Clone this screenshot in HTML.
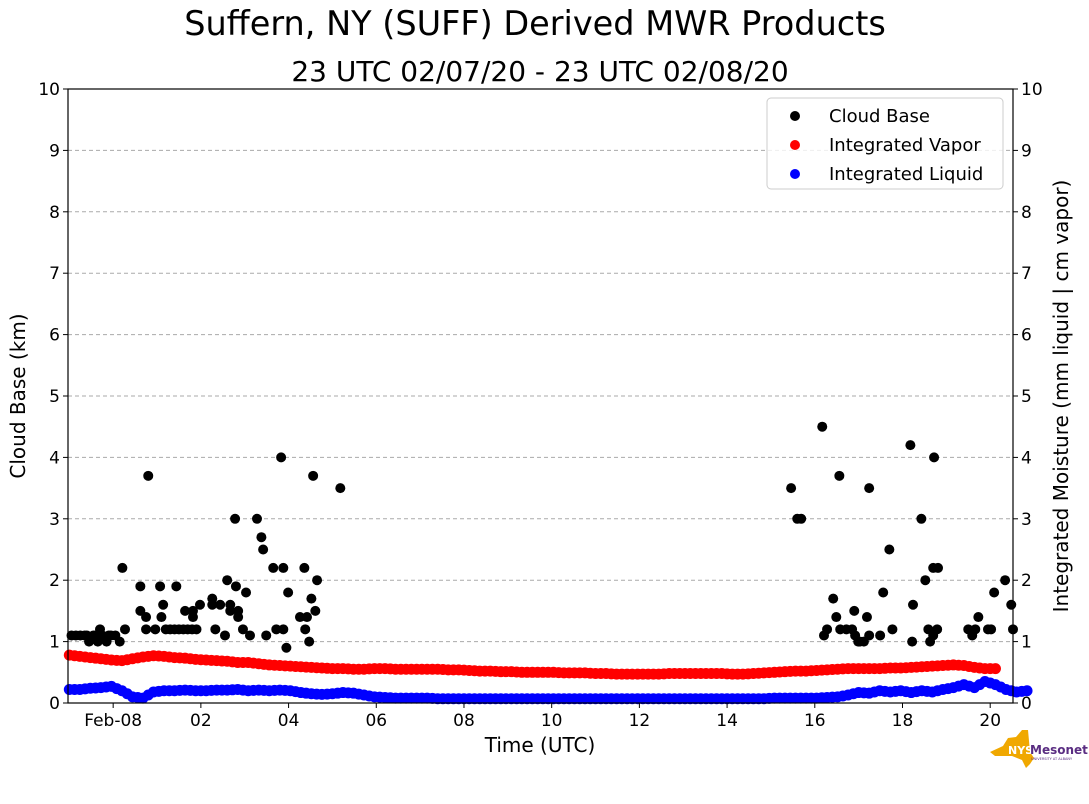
<!DOCTYPE html>
<html><head><meta charset="utf-8"><style>
body{margin:0;background:#fff;}
svg{display:block;font-family:"DejaVu Sans","Liberation Sans",sans-serif;}
</style></head><body>
<svg id="c" width="1089" height="804">
<text x="535" y="35" text-anchor="middle" font-size="33.5">Suffern, NY (SUFF) Derived MWR Products</text>
<text x="540" y="81" text-anchor="middle" font-size="28">23 UTC 02/07/20 - 23 UTC 02/08/20</text>
<g id="grid"></g>
<g id="marks"></g>
<rect x="68" y="89" width="945" height="614" fill="none" stroke="#000" stroke-width="1.2"/>
<g id="axes"></g>
<text x="540" y="752" text-anchor="middle" font-size="20">Time (UTC)</text>
<text transform="translate(25,396) rotate(-90)" text-anchor="middle" font-size="20">Cloud Base (km)</text>
<text transform="translate(1068,396) rotate(-90)" text-anchor="middle" font-size="20">Integrated Moisture (mm liquid | cm vapor)</text>
<g>
<rect x="767" y="98" width="236" height="91" rx="4" fill="#fff" fill-opacity="0.8" stroke="#ccc"/>
<circle cx="795" cy="116" r="5" fill="#000"/><text x="829" y="122" font-size="18">Cloud Base</text>
<circle cx="795" cy="145" r="5" fill="red"/><text x="829" y="151" font-size="18">Integrated Vapor</text>
<circle cx="795" cy="174" r="5" fill="blue"/><text x="829" y="180" font-size="18">Integrated Liquid</text>
</g>
<g>
<path d="M990 752 L1003 746 L1008 738 L1016 737 L1022 730 L1028 730 L1030 752 L1034 758 L1030 764 L1026 768 L1022 760 L1012 756 L995 756 Z" fill="#f0a800"/>
<text x="1008" y="754" font-size="11" font-weight="bold" fill="#fff">NYS</text>
<text x="1030" y="754" font-size="12" font-weight="bold" fill="#5a2d82">Mesonet</text>
<text x="1031" y="760" font-size="3.5" fill="#5a2d82">UNIVERSITY AT ALBANY</text>
</g>
</svg>
<script>
const cbTimes=[-0.95,-0.85,-0.75,-0.65,-0.55,-0.45,-0.35,-0.25,-0.15,-0.05,-0.6,-0.4,-0.3,-0.1,0.05,0.15,0.21,0.27,0.62,0.62,0.8,0.75,0.75,0.96,1.07,1.14,1.1,1.2,1.3,1.4,1.5,1.6,1.7,1.8,1.9,1.44,1.64,1.82,1.82,1.98,2.26,2.26,2.33,2.44,2.6,2.55,2.67,2.67,2.78,2.8,2.85,2.85,2.96,3.03,3.12,3.28,3.38,3.42,3.49,3.65,3.72,3.83,3.88,3.88,3.95,3.99,4.26,4.36,4.38,4.42,4.47,4.52,4.56,4.61,4.65,5.18,15.46,15.6,15.69,16.17,16.21,16.28,16.42,16.49,16.56,16.58,16.72,16.85,16.9,16.92,17.03,16.99,17.12,17.19,17.24,17.24,17.49,17.56,17.7,17.77,18.18,18.22,18.24,18.43,18.52,18.59,18.63,18.7,18.72,18.7,18.79,18.81,19.5,19.59,19.66,19.73,19.95,20.02,20.09,20.34,20.48,20.52];
const cbValues=[1.1,1.1,1.1,1.1,1.0,1.1,1.0,1.1,1.0,1.1,1.1,1.1,1.2,1.1,1.1,1.0,2.2,1.2,1.5,1.9,3.7,1.2,1.4,1.2,1.9,1.6,1.4,1.2,1.2,1.2,1.2,1.2,1.2,1.2,1.2,1.9,1.5,1.4,1.5,1.6,1.7,1.6,1.2,1.6,2.0,1.1,1.6,1.5,3.0,1.9,1.4,1.5,1.2,1.8,1.1,3.0,2.7,2.5,1.1,2.2,1.2,4.0,1.2,2.2,0.9,1.8,1.4,2.2,1.2,1.4,1.0,1.7,3.7,1.5,2.0,3.5,3.5,3.0,3.0,4.5,1.1,1.2,1.7,1.4,3.7,1.2,1.2,1.2,1.5,1.1,1.0,1.0,1.0,1.4,3.5,1.1,1.1,1.8,2.5,1.2,4.2,1.0,1.6,3.0,2.0,1.2,1.0,1.1,4.0,2.2,1.2,2.2,1.2,1.1,1.2,1.4,1.2,1.2,1.8,2.0,1.6,1.2];
const vaporValues=[0.78,0.76,0.74,0.72,0.7,0.69,0.72,0.75,0.77,0.76,0.74,0.73,0.71,0.7,0.69,0.68,0.66,0.66,0.64,0.62,0.61,0.6,0.59,0.58,0.57,0.56,0.56,0.55,0.55,0.56,0.56,0.55,0.55,0.55,0.55,0.55,0.54,0.54,0.53,0.52,0.52,0.51,0.51,0.5,0.5,0.5,0.5,0.49,0.49,0.49,0.48,0.48,0.47,0.47,0.47,0.47,0.47,0.48,0.48,0.48,0.48,0.48,0.48,0.47,0.47,0.48,0.49,0.5,0.51,0.52,0.52,0.53,0.54,0.55,0.56,0.56,0.56,0.56,0.57,0.57,0.58,0.59,0.6,0.61,0.62,0.61,0.58,0.56,0.56];
const liquidValues=[0.22,0.22,0.24,0.25,0.27,0.2,0.1,0.08,0.18,0.2,0.2,0.21,0.2,0.2,0.21,0.21,0.22,0.2,0.21,0.2,0.21,0.2,0.17,0.15,0.14,0.15,0.17,0.16,0.13,0.1,0.09,0.08,0.08,0.08,0.08,0.07,0.07,0.07,0.07,0.07,0.07,0.07,0.07,0.07,0.07,0.07,0.07,0.07,0.07,0.07,0.07,0.07,0.07,0.07,0.07,0.07,0.07,0.07,0.07,0.07,0.07,0.07,0.07,0.07,0.07,0.07,0.07,0.08,0.08,0.08,0.08,0.08,0.09,0.1,0.13,0.17,0.16,0.2,0.18,0.2,0.17,0.2,0.18,0.22,0.25,0.3,0.25,0.35,0.3,0.22,0.18,0.2];
const moistStart=-1, moistStepHours=0.24;
const xTickHours=[0,2,4,6,8,10,12,14,16,18,20];
const xTickLabels=["Feb-08","02","04","06","08","10","12","14","16","18","20"];
const yTicks=[0,1,2,3,4,5,6,7,8,9,10];
const NS="http://www.w3.org/2000/svg";
const X0=68,X1=1013,Y0=703,Y1=89,H0=-1.03,H1=20.52;
function xs(h){return X0+(h-H0)/(H1-H0)*(X1-X0);}
function ys(v){return Y0-v/10*(Y0-Y1);}
function mk(tag,at,parent){const e=document.createElementNS(NS,tag);for(const k in at)e.setAttribute(k,at[k]);parent.appendChild(e);return e;}
const grid=document.getElementById('grid'),marks=document.getElementById('marks'),axes=document.getElementById('axes');
yTicks.forEach(v=>{
 if(v>0&&v<10){const l=mk('line',{x1:X0,x2:X1,y1:ys(v),y2:ys(v),stroke:'#aaa','stroke-dasharray':'4,3'},grid);
 
 }
 mk('line',{x1:X0-5,x2:X0,y1:ys(v),y2:ys(v),stroke:'#000'},axes);
 mk('line',{x1:X1,x2:X1+5,y1:ys(v),y2:ys(v),stroke:'#000'},axes);
 const t=mk('text',{x:X0-8,y:ys(v)+6,'text-anchor':'end','font-size':17},axes);t.textContent=v;
 
 
 const t2=mk('text',{x:X1+8,y:ys(v)+6,'font-size':17},axes);t2.textContent=v;
 
 
});
xTickHours.forEach((h,i)=>{
 mk('line',{x1:xs(h),x2:xs(h),y1:Y0,y2:Y0+5,stroke:'#000'},axes);
 const t=mk('text',{x:xs(h),y:Y0+23,'text-anchor':'middle','font-size':17},axes);t.textContent=xTickLabels[i];
 
 
});
function series(vals,color,name){
 vals.forEach((v,i)=>{const h=moistStart+i*moistStepHours;
  const c=mk('circle',{cx:xs(h),cy:ys(v),r:5.5,fill:color},marks);
  
  
  if(i<vals.length-1){const v2=vals[i+1];
   const c2=mk('circle',{cx:xs(h+moistStepHours/2),cy:ys((v+v2)/2),r:5.5,fill:color},marks);
   
   }
 });
}
series(vaporValues,'red','vapor-point');
series(liquidValues,'blue','liquid-point');
cbTimes.forEach((h,i)=>{
 const c=mk('circle',{cx:xs(h),cy:ys(cbValues[i]),r:5,fill:'#000'},marks);
 
 
});
</script>
</body></html>
